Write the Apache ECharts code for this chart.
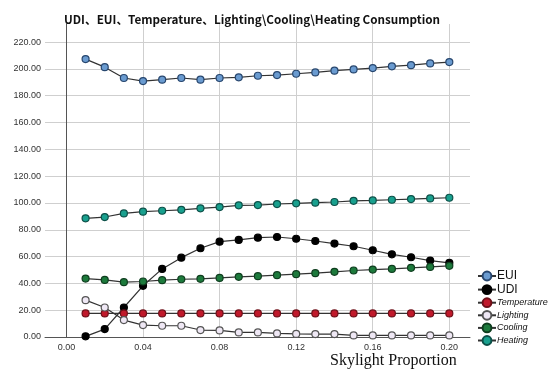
<!DOCTYPE html>
<html>
<head>
<meta charset="utf-8">
<script src="https://cdn.jsdelivr.net/npm/echarts@6/dist/echarts.min.js"></script>
<style>html,body{margin:0;padding:0;background:#fff;}#c{width:550px;height:377px;}</style>
</head>
<body>
<div id="c"></div>
<script>
const xValues = [0.01,0.02,0.03,0.04,0.05,0.06,0.07,0.08,0.09,0.10,0.11,0.12,0.13,0.14,0.15,0.16,0.17,0.18,0.19,0.20];
const xTicks = [0, 0.04, 0.08, 0.12, 0.16, 0.20];
const yTicks = [0,20,40,60,80,100,120,140,160,180,200,220];
const EUI = [207.3,201.3,193.2,190.9,192.0,193.2,192.0,193.2,193.7,194.9,195.4,196.4,197.4,198.7,199.6,200.6,201.9,202.8,204.1,205.1];
const UDI = [0.5,5.9,22.0,38.2,50.8,59.2,66.2,71.1,72.4,74.1,74.6,73.3,71.6,69.7,67.7,64.7,61.7,59.5,57.0,55.3];
const Temperature = [17.6,17.6,17.6,17.6,17.6,17.6,17.6,17.6,17.6,17.6,17.6,17.6,17.6,17.6,17.6,17.6,17.6,17.6,17.6,17.6];
const Lighting = [27.5,22.0,12.6,8.9,8.4,8.4,5.2,4.9,3.4,3.4,2.7,2.3,2.2,2.2,1.2,1.2,1.2,1.2,1.2,1.2];
const Cooling = [43.6,42.6,40.9,41.4,42.4,43.1,43.4,44.1,44.9,45.4,46.1,46.9,47.6,48.6,49.6,50.3,50.8,51.6,52.3,53.1];
const Heating = [88.5,89.5,92.2,93.5,94.2,94.9,96.0,96.9,98.2,98.4,99.2,99.7,100.2,100.7,101.6,101.9,102.4,102.9,103.4,103.9];

const seriesDefs = [
  {name:'EUI', data:EUI, fill:'#6a9bd0', border:'#27466e'},
  {name:'UDI', data:UDI, fill:'#000000', border:'#000000'},
  {name:'Temperature', data:Temperature, fill:'#c0192b', border:'#6e0f18'},
  {name:'Lighting', data:Lighting, fill:'#efe8f5', border:'#555555'},
  {name:'Cooling', data:Cooling, fill:'#1d7a3c', border:'#0e3d1e'},
  {name:'Heating', data:Heating, fill:'#19a08e', border:'#0c5048'}
];

const chart = echarts.init(document.getElementById('c'), null, {renderer:'canvas'});
chart.setOption({
  backgroundColor:'#ffffff',
  animation:false,
  title:{
    text:'UDI、EUI、Temperature、Lighting\\Cooling\\Heating Consumption',
    left:247, top:9, textAlign:'center',
    textStyle:{fontFamily:'Noto Sans CJK SC', fontWeight:'bold', fontSize:11.7, color:'#111'}
  },
  grid:{left:45, right:80, top:24, bottom:40, containLabel:false},
  legend:{
    orient:'vertical', left:472, top:265, itemWidth:18, itemHeight:11, itemGap:1.6,
    data:[
      {name:'EUI', textStyle:{fontSize:12, fontStyle:'normal', lineHeight:11}},
      {name:'UDI', textStyle:{fontSize:12, fontStyle:'normal', lineHeight:11}},
      {name:'Temperature', textStyle:{fontSize:9, fontStyle:'italic', lineHeight:11}},
      {name:'Lighting', textStyle:{fontSize:9, fontStyle:'italic', lineHeight:11}},
      {name:'Cooling', textStyle:{fontSize:9, fontStyle:'italic', lineHeight:11}},
      {name:'Heating', textStyle:{fontSize:9, fontStyle:'italic', lineHeight:11}}
    ],
    textStyle:{fontFamily:'Liberation Sans', color:'#111', padding:[0,0,0,-4]}
  },
  xAxis:{
    type:'value', min:-0.0112, max:0.2108,
    axisLine:{show:true, lineStyle:{color:'#555', width:1}},
    axisTick:{show:false, customValues:xTicks},
    axisLabel:{customValues:xTicks, formatter:v=>v.toFixed(2), fontSize:9, color:'#333', margin:6, fontFamily:'Liberation Sans'},
    splitLine:{show:true, lineStyle:{color:'#cfcfcf', width:1}}
  },
  yAxis:{
    type:'value', min:0, max:233.5,
    axisLine:{show:true, lineStyle:{color:'#555', width:1}},
    axisTick:{show:false, customValues:yTicks},
    axisLabel:{customValues:yTicks, formatter:v=>v.toFixed(2), fontSize:9, color:'#333', margin:4, fontFamily:'Liberation Sans'},
    splitLine:{show:true, lineStyle:{color:'#cfcfcf', width:1}}
  },
  graphic:[{
    type:'text', left:330, top:353,
    style:{text:'Skylight Proportion', font:'16px "Liberation Serif"', fill:'#111'}
  }],
  series: seriesDefs.map(s=>({
    name:s.name, type:'line',
    data:s.data.map((v,i)=>[xValues[i], v]),
    symbol:'circle', symbolSize:7,
    lineStyle:{color:'#333', width:1.2},
    itemStyle:{color:s.fill, borderColor:s.border, borderWidth:1.2},
    emphasis:{disabled:true}
  }))
});
</script>
</body>
</html>
